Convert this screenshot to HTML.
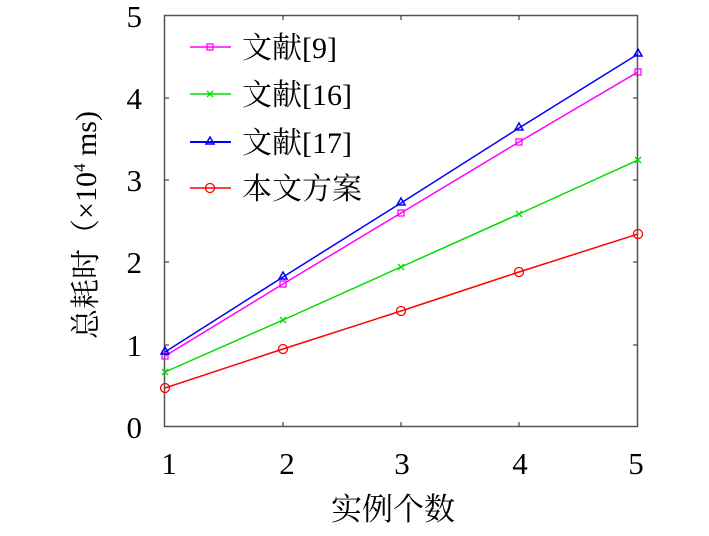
<!DOCTYPE html>
<html><head><meta charset="utf-8"><style>
body{margin:0;background:#fff;}
text{font-family:"Liberation Serif","Noto Serif CJK SC",serif;fill:#000;}
</style></head><body>
<svg width="709" height="531" viewBox="0 0 709 531" xmlns="http://www.w3.org/2000/svg">
<rect x="0" y="0" width="709" height="531" fill="#fff"/>
<rect x="164.5" y="15.5" width="473" height="411" fill="none" stroke="#555" stroke-width="1.5"/>
<g stroke="#444" stroke-width="1.2">
<line x1="164" y1="345" x2="169" y2="345"/><line x1="164" y1="262" x2="169" y2="262"/><line x1="164" y1="180" x2="169" y2="180"/><line x1="164" y1="98" x2="169" y2="98"/>
<line x1="638" y1="345" x2="633" y2="345"/><line x1="638" y1="262" x2="633" y2="262"/><line x1="638" y1="180" x2="633" y2="180"/><line x1="638" y1="98" x2="633" y2="98"/>
<line x1="283" y1="427" x2="283" y2="422"/><line x1="401" y1="427" x2="401" y2="422"/><line x1="519" y1="427" x2="519" y2="422"/>
<line x1="283" y1="15" x2="283" y2="20"/><line x1="401" y1="15" x2="401" y2="20"/><line x1="519" y1="15" x2="519" y2="20"/>
</g>
<g font-size="31" text-anchor="end">
<text x="142" y="438">0</text><text x="142" y="356">1</text><text x="142" y="273">2</text><text x="142" y="191">3</text><text x="142" y="109">4</text><text x="142" y="27">5</text>
</g>
<g font-size="31" text-anchor="middle">
<text x="169" y="474">1</text><text x="287" y="474">2</text><text x="402" y="474">3</text><text x="520" y="474">4</text><text x="636" y="474">5</text>
<text x="393" y="520">实例个数</text>
</g>
<text font-size="30" text-anchor="middle" transform="translate(96,225) rotate(-90)">总耗时（×10<tspan font-size="17" dy="-11">4</tspan><tspan dy="11"> ms)</tspan></text>
<g fill="none" stroke-width="1.5">
<polyline stroke="#f0f" points="165,356 283,284 401,213 519,142 638,72"/>
<polyline stroke="#0d0" points="165,372 283,320 401,267 519,214 638,160"/>
<polyline stroke="#00f" points="165,352 283,277 401,203 519,128 638,54"/>
<polyline stroke="#f00" points="165,388 283,349 401,311 519,272 638,234"/>
</g>
<g fill="none" stroke="#f0f" stroke-width="1.3">
<rect x="162" y="353" width="6" height="6"/><rect x="280" y="281" width="6" height="6"/><rect x="398" y="210" width="6" height="6"/><rect x="516" y="139" width="6" height="6"/><rect x="635" y="69" width="6" height="6"/>
<rect x="207" y="44" width="6" height="6"/>
</g>
<g stroke="#0d0" stroke-width="1.3">
<path d="M162,369l6,6M168,369l-6,6M280,317l6,6M286,317l-6,6M398,264l6,6M404,264l-6,6M516,211l6,6M522,211l-6,6M635,157l6,6M641,157l-6,6M207,91l6,6M213,91l-6,6"/>
</g>
<g fill="none" stroke="#00f" stroke-width="1.5">
<path d="M165,347l4,7h-8z M283,272l4,7h-8z M401,198l4,7h-8z M519,123l4,7h-8z M638,49l4,7h-8z M210,137l4,7h-8z"/>
</g>
<g fill="none" stroke="#f00" stroke-width="1.3">
<circle cx="165" cy="388" r="4.5"/><circle cx="283" cy="349" r="4.5"/><circle cx="401" cy="311" r="4.5"/><circle cx="519" cy="272" r="4.5"/><circle cx="638" cy="234" r="4.5"/>
<circle cx="210" cy="188" r="4.5"/>
</g>
<g stroke-width="1.5">
<line x1="190" y1="47" x2="231" y2="47" stroke="#f0f"/>
<line x1="190" y1="94" x2="231" y2="94" stroke="#0d0"/>
<line x1="190" y1="142" x2="231" y2="142" stroke="#00f" stroke-width="2"/>
<line x1="190" y1="188" x2="231" y2="188" stroke="#f00"/>
</g>
<g font-size="30">
<text x="242" y="58">文献[9]</text>
<text x="242" y="105">文献[16]</text>
<text x="242" y="153">文献[17]</text>
<text x="242" y="199">本文方案</text>
</g>
</svg>
</body></html>
